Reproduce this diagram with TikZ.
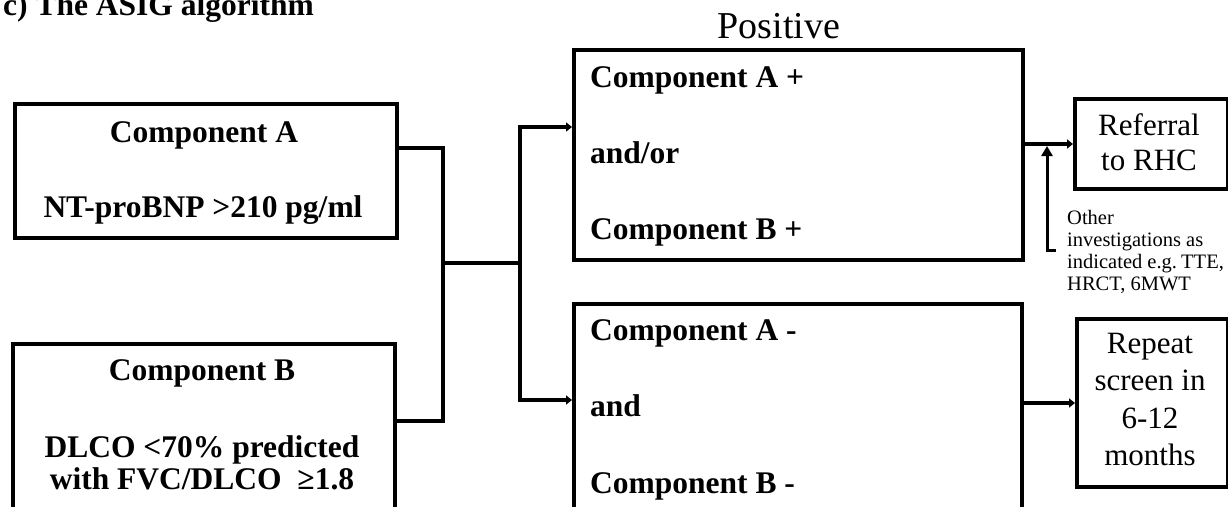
\documentclass[tikz,border=0pt]{standalone}
\usepackage{fontspec}
\setmainfont{Liberation Serif}
\usetikzlibrary{arrows.meta}
\begin{document}
\begin{tikzpicture}[x=1pt,y=-1pt,
  box/.style={draw, line width=4pt, rectangle, inner sep=0pt, anchor=north west},
  conn/.style={line width=4pt},
  arr/.style={conn, -{Triangle[length=6pt,width=9pt]}},
  uparr/.style={line width=3pt, -{Triangle[length=10pt,width=11pt]}},
  bt/.style={font=\fontsize{31.5}{36}\selectfont\bfseries, inner sep=0pt, anchor=base},
  btl/.style={bt, anchor=base west},
  rt/.style={font=\fontsize{31}{37}\selectfont, inner sep=0pt, anchor=base},
  st/.style={font=\fontsize{20.5}{22}\selectfont, inner sep=0pt, anchor=base west}]
\useasboundingbox (0,0) rectangle (1228,506);
\fill[white] (0,0) rectangle (1228,506);
\clip (0,0) rectangle (1228,506);

% title
\node[btl] (title) at (3,16) {c) The ASIG algorithm};
\node[font=\fontsize{38}{42}\selectfont, inner sep=0pt, anchor=base] (postitle) at (779,38) {Positive};

% boxes
\node[box, minimum width=382pt, minimum height=134pt] (boxA) at (13,102) {};
\node[box, minimum width=382pt, minimum height=200pt] (boxB) at (11,342) {};
\node[box, minimum width=449pt, minimum height=210pt] (pos) at (572,48) {};
\node[box, minimum width=448pt, minimum height=230pt] (neg) at (572,302) {};
\node[box, minimum width=153pt, minimum height=90pt] (ref) at (1073,97) {};
\node[box, minimum width=151pt, minimum height=168pt] (rep) at (1075,317) {};

% box A text
\node[bt] (a1) at (204,142) {Component A};
\node[bt] (a2) at (203,217) {NT-proBNP >210 pg/ml};
% box B text
\node[bt] (b1) at (202,380) {Component B};
\node[bt] (b2) at (202,457) {DLCO <70\% predicted};
\node[bt] (b3) at (202,489) {with FVC/DLCO \ ≥1.8};
% positive text
\node[btl] (p1) at (590,87) {Component A +};
\node[btl] (p2) at (590,163) {and/or};
\node[btl] (p3) at (590,239) {Component B +};
% negative text
\node[btl] (n1) at (590,340) {Component A -};
\node[btl] (n2) at (590,416) {and};
\node[btl] (n3) at (590,493) {Component B -};
% referral text
\node[rt] (r1) at (1149,135) {Referral};
\node[rt] (r2) at (1149,170) {to RHC};
% repeat text
\node[rt] (s1) at (1150,353) {Repeat};
\node[rt] (s2) at (1150,390) {screen in};
\node[rt] (s3) at (1150,428) {6-12};
\node[rt] (s4) at (1150,465) {months};
% other investigations
\node[st] (o1) at (1067,224) {Other};
\node[st] (o2) at (1067,246) {investigations as};
\node[st] (o3) at (1067,268) {indicated e.g.\kern-1pt\ TTE,};
\node[st] (o4) at (1067,290) {HRCT, 6MWT};

% connectors
\coordinate (jA) at (443,148);
\coordinate (jB) at (443,421);
\coordinate (jM) at (443,263);
\coordinate (jS) at (520,263);
\coordinate (jT) at (520,127);
\coordinate (jU) at (520,400);
\draw[conn] (jA -| boxA.east) -- (jA) -- (jB) -- (jB -| boxB.east);
\draw[conn] (jM) -- (jS);
\draw[arr] (jU) -- (jT) -- (jT -| pos.west);
\draw[arr] (jT) -- (jU) -- (jU -| neg.west);
\draw[arr] (ref.west -| pos.east) -- (ref.west);
\draw[arr] (rep.west -| neg.east) -- (rep.west);
\coordinate (ot) at (1056,250);
\coordinate (up) at (1047,250);
\coordinate (uptop) at (1047,146);
\draw[uparr] (ot) -- (up) -- (uptop);
\end{tikzpicture}
\end{document}
